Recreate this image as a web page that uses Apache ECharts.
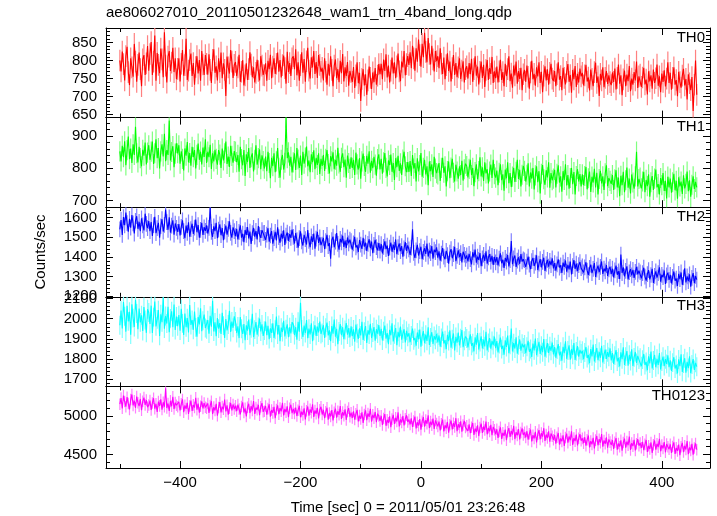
<!DOCTYPE html>
<html>
<head>
<meta charset="utf-8">
<script src="https://cdn.jsdelivr.net/npm/echarts@6/dist/echarts.min.js"></script>
<style>
html,body{margin:0;padding:0;background:#fff;}
#chart{width:717px;height:516px;}
</style>
</head>
<body>
<div id="chart"></div>
<script>
// ---- data (2 s bins starting at -500 s) ----
const timeStart = -500;
const timeStep = 2;

const bandNames = ['TH0', 'TH1', 'TH2', 'TH3', 'TH0123'];

const th0 = [
800,770,825,790,745,812,838,768,732,806,781,755,846,797,741,788,822,776,729,803,815,760,792,840,
772,818,851,760,797,869,744,821,788,765,833,803,754,878,786,739,811,826,771,794,835,768,806,748,
777,806,742,791,829,758,787,860,746,772,801,819,757,793,733,782,812,764,801,744,826,789,760,815,
791,761,817,774,738,802,831,766,784,745,806,768,822,751,792,774,702,811,781,764,829,797,752,788,
796,757,781,816,741,769,801,731,759,792,746,776,823,789,754,781,739,766,802,771,745,812,786,760,
759,792,744,799,776,816,751,783,806,763,791,822,769,801,753,787,814,779,736,824,768,793,757,806,
812,776,831,759,795,744,787,823,766,804,741,798,835,772,750,809,781,826,763,796,752,815,788,769,
780,745,806,769,733,791,758,812,774,729,786,803,751,776,740,799,765,818,742,781,757,796,730,771,
768,741,782,724,759,795,737,766,688,749,776,731,762,705,745,783,752,721,767,740,779,733,758,790,
762,791,748,803,771,817,753,786,739,772,808,764,795,751,784,819,770,743,797,781,826,759,790,812,
788,823,779,841,806,772,834,797,858,815,783,846,809,877,824,795,862,818,789,841,803,770,826,798,
812,779,834,791,763,808,748,787,820,771,797,742,779,815,760,793,754,781,806,749,772,798,739,776,
784,750,793,762,805,741,776,812,758,783,734,769,797,752,788,727,774,801,746,779,763,810,738,770,
751,783,739,770,802,746,768,729,791,757,776,812,743,764,725,786,759,797,736,771,749,780,718,762,
774,741,786,755,722,767,799,748,763,730,781,756,795,738,769,712,758,784,745,776,733,766,791,750,
743,771,729,762,795,747,757,718,780,752,734,769,790,741,760,711,774,748,785,727,763,739,778,756,
766,731,759,788,742,753,717,775,749,729,768,794,738,756,702,763,745,781,726,752,771,735,759,740,
732,767,741,778,720,752,789,736,759,704,748,772,729,761,743,785,715,750,733,768,745,797,724,756,
761,727,753,780,734,747,706,770,742,759,722,775,738,751,789,730,756,712,764,741,773,728,750,795,
738,766,719,752,781,733,746,701,769,740,725,758,777,731,749,692,762,737,718,754,660,733,800,705
];
const th1 = [
852,821,869,834,883,809,856,898,828,861,816,874,841,928,846,818,866,831,806,857,839,879,812,848,
871,826,851,882,813,846,889,831,862,799,852,874,836,906,822,856,841,947,824,850,868,803,845,877,
846,871,814,852,829,793,861,839,881,818,847,808,866,834,856,799,841,876,826,851,812,864,835,889,
816,851,834,872,798,846,821,857,829,811,856,842,801,861,824,846,882,813,836,804,869,838,817,853,
851,819,841,789,866,828,809,856,776,843,819,862,801,834,846,790,826,871,811,831,858,797,840,822,
799,836,791,851,816,769,832,806,846,788,821,862,801,771,826,841,796,817,956,831,849,808,835,787,
818,846,795,862,827,801,839,779,851,814,833,867,806,824,788,843,819,855,797,832,810,846,782,829,
807,841,792,829,856,813,784,837,821,849,797,826,808,863,815,789,832,846,803,827,771,839,816,798,
834,801,826,779,848,812,796,831,768,821,845,807,789,838,814,852,786,823,800,835,811,777,828,843,
796,829,783,818,847,801,775,824,810,842,789,816,764,831,803,838,792,815,779,827,851,806,788,819,
789,822,776,841,799,816,759,831,790,810,847,774,801,826,781,806,748,821,791,812,773,835,799,785,
781,816,761,801,832,786,806,744,791,821,769,802,829,786,759,811,790,768,806,779,823,762,797,814,
807,772,798,826,779,801,745,788,812,766,791,834,775,803,761,818,784,797,753,790,811,770,826,782,
771,793,748,786,812,763,781,731,796,769,818,754,785,742,774,801,758,789,826,767,795,744,780,807,
792,759,780,815,744,787,768,801,735,778,806,757,791,722,783,810,766,749,794,772,818,740,785,763,
768,795,741,783,809,756,775,728,791,764,812,747,779,737,770,801,751,788,719,776,797,759,782,744,
781,748,776,804,735,769,790,727,774,756,798,741,786,719,767,792,753,775,733,784,809,745,770,761,
752,779,733,766,794,741,771,714,777,748,789,726,763,802,740,768,722,781,756,737,775,851,744,767,
771,738,759,789,726,764,745,781,712,757,776,733,768,796,741,751,719,770,748,785,730,761,707,774,
741,768,725,757,783,732,761,706,772,744,759,721,778,738,752,790,729,763,712,749,775,736,758,741
];
const th2 = [
1540,1588,1512,1603,1561,1626,1572,1528,1594,1549,1613,1571,1519,1584,1607,1543,1578,1531,1596,1560,1535,1620,1568,1547,
1582,1531,1578,1507,1562,1604,1521,1547,1573,1498,1556,1592,1529,1563,1641,1577,1538,1601,1524,1559,1586,1513,1570,1548,
1528,1567,1509,1553,1586,1531,1495,1559,1522,1576,1503,1541,1569,1517,1549,1590,1526,1562,1498,1538,1574,1512,1551,1533,
1561,1519,1548,1650,1527,1502,1556,1531,1574,1495,1539,1566,1511,1547,1485,1528,1559,1513,1543,1581,1522,1498,1550,1531,
1506,1543,1489,1527,1561,1498,1518,1475,1537,1512,1552,1494,1529,1466,1521,1548,1503,1532,1489,1557,1514,1497,1536,1521,
1522,1487,1513,1546,1478,1509,1531,1467,1496,1528,1484,1551,1501,1472,1519,1493,1535,1461,1508,1524,1482,1516,1497,1539,
1502,1468,1521,1485,1447,1496,1530,1479,1458,1512,1491,1463,1537,1482,1450,1505,1476,1519,1442,1493,1528,1471,1499,1460,
1463,1497,1440,1481,1512,1455,1470,1391,1486,1503,1449,1478,1521,1466,1437,1492,1474,1508,1451,1483,1446,1499,1469,1488,
1481,1437,1469,1502,1448,1459,1425,1486,1463,1441,1497,1452,1473,1430,1466,1490,1444,1478,1419,1461,1487,1450,1433,1470,
1432,1465,1418,1451,1479,1440,1458,1405,1447,1473,1426,1462,1436,1489,1414,1450,1468,1429,1455,1401,1444,1476,1431,1459,
1438,1410,1447,1541,1421,1395,1433,1461,1407,1429,1452,1389,1426,1444,1415,1468,1402,1432,1419,1455,1391,1437,1424,1449,
1396,1428,1381,1417,1445,1402,1388,1431,1409,1366,1422,1440,1393,1414,1451,1378,1405,1433,1399,1419,1372,1426,1411,1390,
1408,1377,1416,1389,1362,1424,1398,1437,1371,1401,1385,1420,1353,1392,1411,1380,1429,1366,1397,1414,1376,1405,1359,1400,
1372,1399,1357,1391,1418,1368,1386,1344,1395,1376,1410,1352,1383,1481,1363,1392,1407,1349,1381,1398,1365,1414,1377,1388,
1383,1349,1376,1402,1361,1338,1379,1395,1354,1371,1408,1333,1366,1389,1347,1375,1396,1329,1364,1385,1351,1380,1358,1393,
1341,1369,1330,1362,1388,1346,1357,1318,1371,1349,1382,1325,1360,1337,1376,1311,1353,1384,1339,1366,1328,1358,1374,1343,
1352,1321,1347,1373,1330,1308,1344,1361,1317,1339,1369,1298,1335,1356,1322,1349,1377,1313,1341,1326,1358,1303,1337,1350,
1313,1340,1296,1331,1356,1309,1327,1288,1412,1318,1347,1301,1329,1352,1285,1322,1338,1306,1334,1293,1324,1349,1311,1330,
1322,1291,1317,1345,1300,1279,1312,1333,1286,1308,1339,1268,1304,1326,1295,1318,1347,1274,1309,1297,1331,1262,1306,1320,
1283,1309,1265,1298,1326,1279,1290,1252,1314,1287,1321,1258,1296,1342,1270,1301,1277,1311,1249,1293,1318,1266,1303,1284
];
const th3 = [
1968,2041,1952,2083,2012,1936,2064,1987,2035,1921,2072,2003,1959,2094,2026,1948,2051,1982,2017,1939,2058,1994,1930,2047,
2031,1974,2065,1929,2008,2086,1962,1997,2043,1915,2022,1983,2105,1951,2014,1976,2059,1933,2002,2037,1958,2071,1944,2011,
1963,2018,1941,2049,1977,1920,2026,1958,2003,1932,2068,1969,1994,1945,2036,1957,1911,2009,1972,2052,1938,1990,2021,1954,
1948,1993,1926,2015,1961,2089,1937,1982,1913,2004,1951,1978,1924,2030,1966,1905,1998,1942,1971,2040,1934,1986,1955,2012,
1987,1929,1962,1904,2008,1950,1925,1974,1893,1967,1941,1996,1918,1953,2025,1909,1946,1983,1921,1959,2001,1937,1972,1915,
1941,1986,1918,1965,1899,1952,1930,1977,1904,1945,2011,1922,1969,1889,1956,1934,1990,1912,1948,1972,1908,1958,1927,1983,
1972,1919,1958,1896,1985,1936,2079,1947,1910,1966,1929,1993,1903,1951,1922,1977,1888,1940,1968,1915,1961,1932,1986,1924,
1930,1968,1905,1955,1981,1917,1942,1889,1964,1926,1996,1911,1950,1874,1937,1973,1918,1958,1898,1944,1979,1921,1953,1907,
1962,1913,1947,1886,1971,1928,1900,1952,1917,1985,1895,1936,1964,1880,1943,1921,1975,1904,1932,1959,1891,1948,1926,1969,
1915,1950,1892,1938,1966,1901,1929,1874,1945,1918,1977,1887,1923,1954,1868,1935,1908,1961,1896,1926,1948,1882,1940,1911,
1928,1884,1917,1951,1893,1905,1866,1932,1898,1946,1861,1913,1939,1879,1921,1890,1958,1870,1907,1933,1875,1914,1896,1925,
1883,1917,1861,1905,1936,1877,1894,1849,1920,1889,1942,1856,1898,1927,1842,1910,1881,1931,1867,1903,1944,1859,1891,1912,
1902,1858,1891,1923,1866,1879,1838,1908,1871,1929,1847,1884,1913,1852,1896,1863,1935,1843,1880,1904,1851,1890,1869,1911,
1854,1889,1833,1875,1906,1849,1866,1822,1893,1860,1917,1829,1871,1951,1838,1879,1852,1908,1826,1868,1897,1841,1876,1858,
1872,1829,1861,1890,1836,1850,1810,1877,1843,1902,1819,1858,1885,1825,1866,1834,1899,1812,1853,1879,1830,1864,1841,1882,
1823,1859,1806,1847,1874,1818,1836,1792,1861,1829,1888,1801,1842,1868,1797,1850,1821,1879,1795,1838,1864,1812,1845,1827,
1841,1799,1832,1860,1805,1820,1779,1849,1813,1872,1788,1828,1855,1794,1836,1806,1866,1783,1822,1847,1800,1834,1811,1853,
1793,1829,1776,1817,1844,1788,1806,1763,1833,1799,1858,1771,1812,1839,1767,1821,1790,1848,1765,1808,1835,1781,1816,1797,
1806,1764,1797,1825,1770,1785,1744,1813,1778,1837,1753,1793,1820,1759,1801,1771,1830,1748,1787,1812,1765,1799,1776,1818,
1759,1794,1741,1782,1809,1753,1771,1728,1798,1764,1823,1736,1777,1804,1732,1786,1755,1813,1730,1773,1800,1746,1781,1762
];
const th0123 = [
5152,5231,5098,5264,5187,5119,5243,5160,5083,5212,5278,5136,5197,5105,5251,5171,5127,5220,5074,5189,5238,5143,5206,5112,
5141,5199,5076,5168,5229,5093,5157,5052,5186,5130,5214,5082,5177,5118,5360,5104,5161,5063,5195,5125,5247,5089,5172,5138,
5119,5183,5071,5156,5214,5048,5137,5092,5171,5026,5128,5199,5065,5143,5108,5236,5080,5159,5041,5124,5190,5097,5167,5111,
5098,5162,5039,5133,5191,5024,5114,5070,5156,5003,5109,5178,5046,5120,5085,5213,5058,5137,5017,5101,5169,5072,5148,5090,
5132,5061,5147,5089,5018,5121,5176,5044,5098,4992,5113,5158,5037,5126,5069,5194,5026,5107,5081,5143,5009,5119,5165,5053,
5060,5128,5017,5094,5151,4989,5076,5039,5117,4971,5083,5136,5022,5102,5059,5170,5006,5091,5048,5124,4983,5099,5144,5035,
5092,5031,5109,4998,5074,5131,4982,5056,5012,5097,4953,5068,5122,5004,5085,5040,5151,4987,5071,5028,5105,4966,5080,5118,
5018,5079,4969,5053,5106,4951,5037,4992,5074,4940,5046,5095,4978,5061,5014,5129,4960,5049,5003,5084,4946,5058,5101,4989,
5041,4973,5058,4952,5026,5079,4928,5004,4961,5047,4909,5019,5071,4945,5032,4988,5092,4926,5015,4970,5051,4917,5029,4998,
4935,5001,4882,4967,5023,4871,4949,4910,4993,4852,4958,5014,4895,4976,4927,5045,4864,4954,4913,4999,4876,4963,5008,4921,
4952,4889,4968,4856,4934,4991,4838,4917,4873,4959,4821,4930,4983,4861,4945,4898,5006,4842,4926,4880,4965,4830,4941,4902,
4864,4925,4812,4897,4952,4798,4878,4839,4921,4783,4886,4940,4823,4905,4855,4970,4801,4893,4847,4929,4794,4882,4935,4850,
4871,4805,4889,4776,4853,4908,4752,4836,4791,4877,4738,4848,4900,4779,4862,4817,4925,4761,4845,4798,4884,4749,4857,4820,
4762,4827,4713,4798,4851,4702,4780,4741,4822,4685,4793,4842,4726,4806,4758,4871,4699,4788,4747,4829,4694,4783,4838,4752,
4786,4719,4801,4691,4767,4822,4668,4749,4706,4792,4655,4762,4815,4694,4777,4730,4840,4676,4758,4713,4798,4664,4771,4735,
4689,4752,4640,4723,4778,4628,4707,4669,4748,4611,4719,4770,4652,4733,4684,4799,4623,4712,4672,4756,4617,4709,4763,4678,
4708,4645,4723,4613,4690,4746,4591,4672,4630,4714,4578,4685,4739,4618,4697,4652,4765,4600,4681,4637,4720,4587,4694,4659,
4623,4686,4572,4658,4711,4562,4641,4600,4683,4547,4654,4705,4586,4667,4618,4730,4557,4646,4607,4690,4551,4639,4698,4613,
4649,4585,4664,4554,4630,4687,4531,4612,4570,4655,4518,4626,4680,4560,4638,4594,4703,4540,4621,4577,4660,4527,4634,4598,
4568,4630,4518,4603,4657,4505,4585,4545,4628,4490,4599,4650,4530,4612,4563,4674,4502,4591,4552,4636,4495,4584,4642,4560
];
// typical 1-sigma error per band (counts/sec)
const bandErrors = [30, 31, 40, 47, 75];

// axis ticks
const xMajorTicks = [-400, -200, 0, 200, 400];
const xMinorTicks = [-500, -300, -100, 100, 300];
const yMajorTicks = [
  [650, 700, 750, 800, 850],
  [700, 800, 900],
  [1200, 1300, 1400, 1500, 1600],
  [1700, 1800, 1900, 2000, 2100],
  [4500, 5000]
];
const yMinorStep = [10, 20, 20, 20, 100];
const yRanges = [[642, 890], [680, 956], [1197, 1653], [1664, 2109], [4323, 5383]];
const xRange = [-523, 480];

// ---- styling / layout ----
const bandValues = [th0, th1, th2, th3, th0123];
const colors = ['#ff0000', '#00ff00', '#0000ff', '#00ffff', '#ff00ff'];
const lightColors = ['#ff8080', '#80ff80', '#8080ff', '#80ffff', '#ff80ff'];
const FONT = '"Liberation Sans", Arial, Helvetica, sans-serif';
const gridLeft = 106, gridRight = 7, gridTop = 28, panelH = 89.6;

const times = th0.map((_, i) => timeStart + i * timeStep);

function minorList(range, step) {
  const out = [];
  for (let v = Math.ceil(range[0] / step) * step; v <= range[1]; v += step) out.push(v);
  return out;
}
const plain = v => String(v);

const grids = [], xAxes = [], yAxes = [], series = [], graphics = [];
const lineCol = '#000';

bandValues.forEach((vals, i) => {
  const top = gridTop + i * panelH;
  grids.push({left: gridLeft, right: gridRight, top: top, height: panelH, containLabel: false});
  const isLast = i === bandValues.length - 1;
  const baseX = xAxes.length;
  ['bottom', 'top'].forEach(pos => {
    xAxes.push({
      type: 'value', gridIndex: i, position: pos, min: xRange[0], max: xRange[1],
      axisLine: {show: true, onZero: false, lineStyle: {color: lineCol, width: 1}},
      axisTick: {show: true, inside: true, length: 7, customValues: xMajorTicks, lineStyle: {color: lineCol}},
      axisLabel: {show: isLast && pos === 'bottom', customValues: xMajorTicks, formatter: v => (v < 0 ? '\u2212' + Math.abs(v) : String(v)),
        color: '#000', fontFamily: FONT, fontSize: 15, margin: 7},
      splitLine: {show: false},
      name: (isLast && pos === 'bottom') ? 'Time [sec] 0 = 2011/05/01 23:26:48' : '',
      nameLocation: 'middle', nameGap: 32,
      nameTextStyle: {color: '#000', fontFamily: FONT, fontSize: 15}
    });
    xAxes.push({
      type: 'value', gridIndex: i, position: pos, min: xRange[0], max: xRange[1],
      axisLine: {show: false, onZero: false},
      axisTick: {show: true, inside: true, length: 4, customValues: xMinorTicks, lineStyle: {color: lineCol}},
      axisLabel: {show: false},
      splitLine: {show: false}
    });
  });
  const baseY = yAxes.length;
  const minors = minorList(yRanges[i], yMinorStep[i]);
  ['left', 'right'].forEach(pos => {
    yAxes.push({
      type: 'value', gridIndex: i, position: pos, min: yRanges[i][0], max: yRanges[i][1],
      axisLine: {show: true, onZero: false, lineStyle: {color: lineCol, width: 1}},
      axisTick: {show: true, inside: true, length: 7, customValues: yMajorTicks[i], lineStyle: {color: lineCol}},
      axisLabel: {show: pos === 'left', customValues: yMajorTicks[i], formatter: plain,
        color: '#000', fontFamily: FONT, fontSize: 15, margin: 9},
      splitLine: {show: false},
      name: (i === 2 && pos === 'left') ? 'Counts/sec' : '',
      nameLocation: 'middle', nameGap: 58, nameRotate: 90,
      nameTextStyle: {color: '#000', fontFamily: FONT, fontSize: 15}
    });
    yAxes.push({
      type: 'value', gridIndex: i, position: pos, min: yRanges[i][0], max: yRanges[i][1],
      axisLine: {show: false, onZero: false},
      axisTick: {show: true, inside: true, length: 4, customValues: minors, lineStyle: {color: lineCol}},
      axisLabel: {show: false},
      splitLine: {show: false}
    });
  });

  const pts = vals.map((v, j) => [times[j], v, bandErrors[i]]);
  series.push({
    type: 'custom', xAxisIndex: baseX, yAxisIndex: baseY, clip: true, silent: true,
    data: pts, encode: {x: 0, y: 1},
    renderItem: (params, api) => {
      const t = api.value(0), v = api.value(1), e = api.value(2);
      const a = api.coord([t, v + e]), b = api.coord([t, v - e]);
      return {type: 'line', shape: {x1: a[0], y1: a[1], x2: b[0], y2: b[1]},
        style: {stroke: lightColors[i], lineWidth: 1.2}};
    },
    z: 2
  });
  series.push({
    type: 'line', xAxisIndex: baseX, yAxisIndex: baseY, data: pts.map(p => [p[0], p[1]]),
    showSymbol: false, symbol: 'none', clip: true, silent: true, sampling: 'none',
    lineStyle: {color: colors[i], width: 1.1}, itemStyle: {color: colors[i]}, z: 3
  });

  graphics.push({
    type: 'text', right: 12, top: top + 2, z: 10,
    style: {text: bandNames[i], fill: '#000', font: '15px ' + FONT}
  });
});

graphics.push({
  type: 'text', left: 106, top: 5,
  style: {text: 'ae806027010_20110501232648_wam1_trn_4band_long.qdp', fill: '#000', font: '15px ' + FONT}
});

const chart = echarts.init(document.getElementById('chart'), null, {renderer: 'canvas'});
chart.setOption({
  animation: false,
  backgroundColor: '#fff',
  grid: grids,
  xAxis: xAxes,
  yAxis: yAxes,
  series: series,
  graphic: graphics
});
</script>
</body>
</html>
